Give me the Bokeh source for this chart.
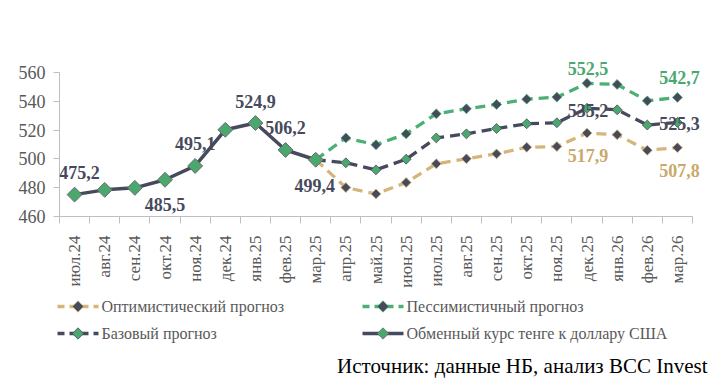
import numpy as np
from bokeh.plotting import figure
from bokeh.layouts import column
from bokeh.models import FixedTicker, Range1d, Label
from bokeh.core.properties import value
from bokeh.embed import file_html
from bokeh.resources import INLINE

# ---------------- data ----------------
months = ["июл.24", "авг.24", "сен.24", "окт.24", "ноя.24", "дек.24", "янв.25",
          "фев.25", "мар.25", "апр.25", "май.25", "июн.25", "июл.25", "авг.25",
          "сен.25", "окт.25", "ноя.25", "дек.25", "янв.26", "фев.26", "мар.26"]
actual = [475.2, 478.5, 479.9, 485.5, 495.1, 520.2, 524.9, 506.2, 499.4]
optimistic = [480.1, 475.7, 483.6, 496.6, 500.1, 503.5, 508.1, 508.6, 517.9, 516.8, 506.0, 507.8]
base = [497.3, 492.4, 499.8, 514.6, 517.4, 521.1, 524.4, 525.1, 535.2, 534.1, 523.5, 525.3]
pessimistic = [514.6, 509.8, 517.4, 531.3, 534.8, 537.8, 541.5, 542.9, 552.5, 551.7, 540.3, 542.7]
y_ticks = [460, 480, 500, 520, 540, 560]

legend_names = ["Оптимистический прогноз", "Пессимистичный прогноз",
                "Базовый прогноз", "Обменный курс тенге к доллару США"]
source_text = "Источник: данные НБ, анализ BCC Invest"

# ---------------- styles ----------------
FONT = value("Liberation Serif")
DARK = "#464a5c"
GREEN = "#4caf75"
GREEN_M = "#4aa86f"
TAN = "#d4b67a"
TAN_T = "#c9a96a"
AX = "#bfbfbf"
TXT = "#595959"
DASH = "10 6"

n_act = len(actual)
n_cat = len(months)
x_act = list(range(n_act))
x_fc = list(range(n_act - 1, n_act + len(base)))
x_fc_m = x_fc[1:]

# frame padded (top/right) so labels near the edges are not clipped
X_PX = 633.0 / n_cat
Y_PX = 144.0 / (y_ticks[-1] - y_ticks[0])
PAD_R, PAD_T = 10.0, 20.0

p = figure(width=712, height=296, output_backend="svg", toolbar_location=None,
           x_range=Range1d(-0.5, n_cat - 0.5 + PAD_R / X_PX),
           y_range=Range1d(y_ticks[0], y_ticks[-1] + PAD_T / Y_PX),
           min_border_left=59, min_border_right=10, min_border_top=52,
           min_border_bottom=80)
p.outline_line_color = None
p.xgrid.visible = False
p.ygrid.visible = False
p.background_fill_color = "white"

# forecast lines
for vals, lc, mfill, mline in [(optimistic, TAN, DARK, TAN),
                               (base, DARK, GREEN_M, DARK),
                               (pessimistic, GREEN, DARK, GREEN)]:
    p.line(x_fc, [actual[-1]] + vals, line_color=lc, line_width=3.3, line_dash=DASH)
    p.scatter(x_fc_m, vals, marker="square", angle=np.pi / 4, size=7,
              fill_color=mfill, line_color=mline, line_width=0.8)

# actual
p.line(x_act, actual, line_color=DARK, line_width=3.5)
p.scatter(x_act, actual, marker="square", angle=np.pi / 4, size=10.5,
          fill_color=GREEN_M, line_color="#6a6a6a", line_width=1)

# data labels: (series, index, dx, dy(up), color)
series = {"act": (x_act, actual), "opt": (x_fc_m, optimistic),
          "base": (x_fc_m, base), "pes": (x_fc_m, pessimistic)}
label_spec = [("act", 0, 5, 22, DARK), ("act", 3, 0, -25, DARK), ("act", 4, 0, 22, DARK),
              ("act", 6, 0, 22, DARK), ("act", 7, 0, 22, DARK), ("act", 8, -1, -26, DARK),
              ("pes", 8, 1, 15, GREEN_M), ("pes", 11, 2, 20, GREEN_M),
              ("base", 8, 1, -2, DARK), ("base", 11, 2, -1, DARK),
              ("opt", 8, 1, -22, TAN_T), ("opt", 11, 2, -23, TAN_T)]
for s, i, dx, dy, c in label_spec:
    xs, vs = series[s]
    p.add_layout(Label(x=xs[i], y=vs[i], text=f"{vs[i]:.1f}".replace(".", ","),
                       x_offset=dx, y_offset=dy, text_color=c,
                       text_font="Liberation Serif", text_font_style="bold",
                       text_font_size="18px", text_align="center",
                       text_baseline="middle"))

# axes
p.yaxis.ticker = FixedTicker(ticks=y_ticks)
p.yaxis.bounds = (y_ticks[0], y_ticks[-1])
p.yaxis.axis_line_color = AX
p.yaxis.major_tick_line_color = AX
p.yaxis.major_tick_out = 6
p.yaxis.major_tick_in = 0
p.yaxis.minor_tick_line_color = None
p.yaxis.major_label_text_font = "Liberation Serif"
p.yaxis.major_label_text_font_size = "18px"
p.yaxis.major_label_text_color = TXT
p.yaxis.major_label_standoff = 8

p.xaxis.ticker = FixedTicker(ticks=list(range(n_cat)),
                             minor_ticks=[i - 0.5 for i in range(n_cat + 1)])
p.xaxis.bounds = (-0.5, n_cat - 0.5)
p.xaxis.major_label_overrides = {i: m for i, m in enumerate(months)}
p.xaxis.axis_line_color = AX
p.xaxis.major_tick_line_color = None
p.xaxis.major_tick_out = 0
p.xaxis.major_tick_in = 0
p.xaxis.minor_tick_line_color = AX
p.xaxis.minor_tick_out = 7
p.xaxis.minor_tick_in = 0
p.xaxis.major_label_orientation = np.pi / 2
p.xaxis.major_label_text_font = "Liberation Serif"
p.xaxis.major_label_text_font_size = "17px"
p.xaxis.major_label_text_color = TXT
p.xaxis.major_label_standoff = 12

# ---------------- legend + source ----------------
lg = figure(width=712, height=94, output_backend="svg", toolbar_location=None,
            x_range=Range1d(0, 712), y_range=Range1d(94, 0),
            min_border=0, min_border_left=0, min_border_right=0,
            min_border_top=0, min_border_bottom=0)
lg.frame_align = False
lg.axis.visible = False
lg.xgrid.visible = False
lg.ygrid.visible = False
lg.outline_line_color = None

items = [(legend_names[0], TAN, DARK, TAN, True, 57, 10),
         (legend_names[1], GREEN, DARK, GREEN, True, 362, 10),
         (legend_names[2], DARK, GREEN_M, DARK, True, 57, 37),
         (legend_names[3], DARK, GREEN_M, "#6a6a6a", False, 362, 37)]
for name, lcol, mf, ml, dashed, x0, yy in items:
    if dashed:
        lg.line([x0, x0 + 41], [yy, yy], line_color=lcol, line_width=3.3, line_dash="7 5")
    else:
        lg.line([x0, x0 + 41], [yy, yy], line_color=lcol, line_width=3.5)
    lg.scatter([x0 + 20.5], [yy], marker="square", angle=np.pi / 4, size=8,
               fill_color=mf, line_color=ml, line_width=0.8)
    lg.text([x0 + 44], [yy], text=[name], text_font=FONT, text_font_size="16px",
            text_color=TXT, text_align="left", text_baseline="middle")

lg.text([707], [69], text=[source_text], text_font=FONT, text_font_size="21px",
        text_color="#000000", text_align="right", text_baseline="middle")

layout = column(p, lg, spacing=0)
open("out.html", "w").write(file_html(layout, INLINE))
